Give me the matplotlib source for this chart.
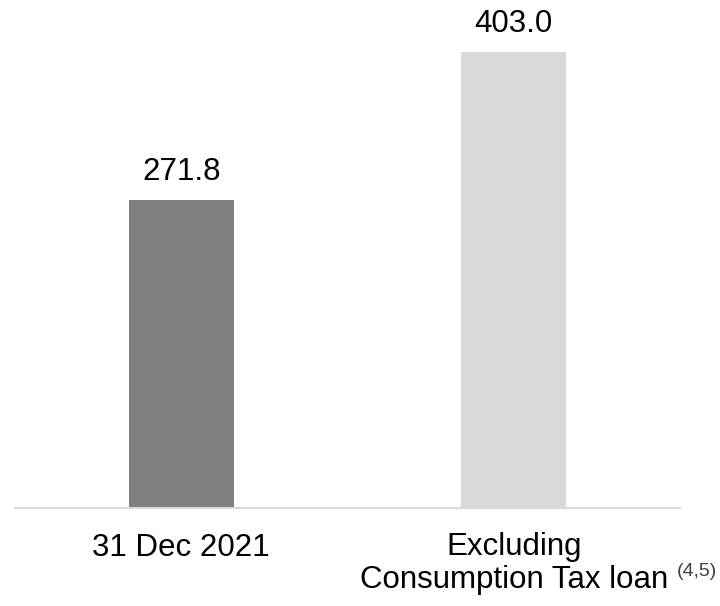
import matplotlib
matplotlib.use("Agg")
import matplotlib.pyplot as plt

categories = ["31 Dec 2021", "Excluding\nConsumption Tax loan"]
values = [271.8, 403.0]
value_labels = ["271.8", "403.0"]
footnote = "(4,5)"
colors = ["#7f7f7f", "#d9d9d9"]

plt.rcParams['font.family'] = ['Liberation Sans', 'DejaVu Sans']

fig = plt.figure(figsize=(7.2, 6.06), dpi=100)
ax = fig.add_axes([15/720, (606-507.5)/606, (680-15)/720, 507.5/606])

x = list(range(len(categories)))
bars = ax.bar(x, values, width=0.315, color=colors)
for b, lab in zip(bars, value_labels):
    ax.annotate(lab, (b.get_x() + b.get_width()/2, b.get_height()),
                xytext=(0, 9.5), textcoords="offset points",
                ha="center", va="bottom", fontsize=22.5, color="black",
                annotation_clip=False)

ax.set_xlim(-0.5, 1.5)
ax.set_ylim(0, 449)
ax.set_xticks(x)
ax.set_xticklabels(categories, fontsize=22.5)
for t in ax.get_xticklabels():
    t.set_linespacing(1.1)
ax.tick_params(axis="x", length=0, pad=18)
ax.set_yticks([])
for s in ["top", "right", "left"]:
    ax.spines[s].set_visible(False)
ax.spines["bottom"].set_color("#d9d9d9")
ax.spines["bottom"].set_linewidth(1.5)

fig.text(677/720, 1 - 563/606, footnote, ha="left", va="top",
         fontsize=14, color="#404040")

fig.savefig("out.png", dpi=100)
